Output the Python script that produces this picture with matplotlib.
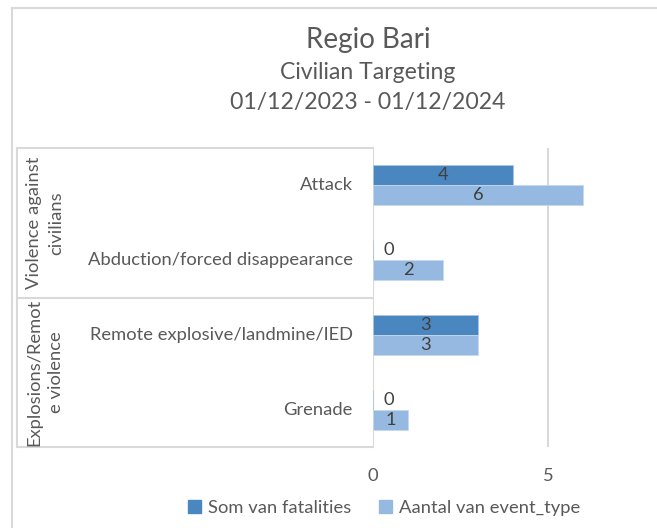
#horizontal grouped bar chart of civilian targeting events in Regio Bari
import matplotlib.pyplot as plt
from matplotlib.patches import Patch
from matplotlib.lines import Line2D

plt.rcParams['font.family'] = ['Lato', 'DejaVu Sans']

categories = ['Attack', 'Abduction/forced disappearance',
              'Remote explosive/landmine/IED', 'Grenade']
groups = ['Violence against\ncivilians', 'Explosions/Remot\ne violence']
group_of = [0, 0, 1, 1]
fatalities = [4, 0, 3, 0]
events = [6, 2, 3, 1]
series_names = ['Som van fatalities', 'Aantal van event_type']

dark = '#4A86C0'
light = '#96B9E2'
grid = '#D9D9D9'
txt = '#595959'
lbl = '#404040'
fs = 13.2

fig = plt.figure(figsize=(6.57, 5.28), dpi=100)
ax = fig.add_axes([373/657, 81/528, 1 - 373/657, 299/528])

h = 0.267
ypos = list(range(len(categories)))
b1 = ax.barh([y - h/2 for y in ypos], fatalities, height=h, color=dark,
             edgecolor='#A9C4E4', linewidth=0.6, zorder=3)
b2 = ax.barh([y + h/2 for y in ypos], events, height=h, color=light,
             edgecolor='#C6D8EF', linewidth=0.6, zorder=3)

for bars, vals in ((b1, fatalities), (b2, events)):
    for bar, v in zip(bars, vals):
        yc = bar.get_y() + bar.get_height()/2
        if v == 0:
            ax.annotate(str(v), (0, yc), xytext=(10, 0), textcoords='offset pixels',
                        ha='left', va='center', fontsize=fs, color=lbl, zorder=4)
        else:
            ax.text(v/2, yc, str(v), ha='center', va='center',
                    fontsize=fs, color=lbl, zorder=4)

ax.set_xlim(0, (657 - 373)/35)
ax.set_ylim(len(categories) - 0.5, -0.5)
ax.set_xticks([0, 5])
ax.set_yticks([])
ax.tick_params(axis='x', length=0, pad=15, labelsize=fs, labelcolor=txt)
for s in ax.spines.values():
    s.set_visible(False)
ax.xaxis.grid(True, color=grid, linewidth=1.5, zorder=0)
ax.set_axisbelow(True)

# category labels and group boxes to the left of the axis
xl = (17 - 373)/284
for y, c in zip(ypos, categories):
    ax.annotate(c, (0, y), xycoords=('axes fraction', 'data'), xytext=(-20, 0),
                textcoords='offset pixels', ha='right', va='center',
                fontsize=fs, color=txt)
kw = dict(transform=ax.transAxes, color=grid, linewidth=1.5, clip_on=False)
ax.plot([xl, 0], [1, 1], **kw)
ax.plot([xl, 0], [0, 0], **kw)
ax.plot([xl, xl], [0, 1], **kw)
n = len(categories)
for gi, g in enumerate(groups):
    members = [i for i in range(n) if group_of[i] == gi]
    top = 1 - min(members)/n
    bot = 1 - (max(members) + 1)/n
    if gi > 0:
        ax.plot([xl, 0], [top, top], **kw)
    ax.text(xl + 0.098, (top + bot)/2, g, transform=ax.transAxes, rotation=90,
            ha='center', va='center', fontsize=fs, color=txt,
            multialignment='center', linespacing=1.45)

# titles
xc = 368/657
fig.text(xc, 1 - 40/528, 'Regio Bari', ha='center', va='center',
         fontsize=20, color=txt)
fig.text(xc, 1 - 73/528, 'Civilian Targeting', ha='center', va='center',
         fontsize=16.6, color=txt)
fig.text(xc, 1 - 103/528, '01/12/2023 - 01/12/2024', ha='center',
         va='center', fontsize=16.6, color=txt)

# outer chart border (cropped on right and bottom)
fig.add_artist(Line2D([12/657, 1], [1 - 8/528, 1 - 8/528], color=grid, linewidth=1.5))
fig.add_artist(Line2D([12/657, 12/657], [0, 1 - 8/528], color=grid, linewidth=1.5))

handles = [Patch(color=dark), Patch(color=light)]
fig.legend(handles, series_names, loc='center', bbox_to_anchor=(384/657, 20/528),
           ncol=2, frameon=False, fontsize=fs, labelcolor=txt,
           handlelength=0.7, handleheight=0.7, handletextpad=0.4, columnspacing=1.5)

fig.savefig('out.png', dpi=100)
